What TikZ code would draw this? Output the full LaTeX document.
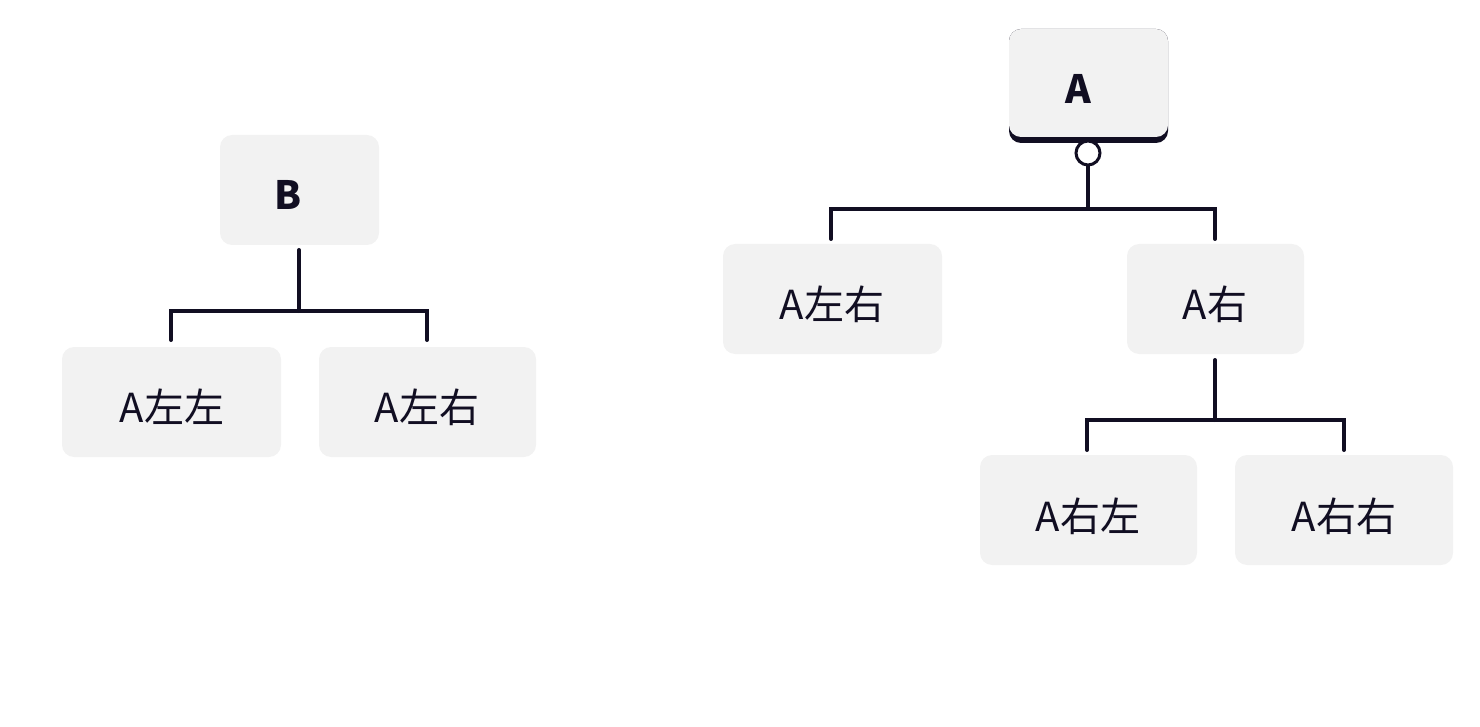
\documentclass[tikz,border=0pt]{standalone}
\usepackage{fontspec}
\setmainfont{Noto Sans CJK SC}
\definecolor{ink}{HTML}{110E22}
\definecolor{boxfill}{HTML}{F2F2F2}
\tikzset{
  box/.style={fill=boxfill, draw=none, rounded corners=12pt},
  lbl/.style={font=\fontsize{40}{42}\selectfont, text=ink, inner sep=0pt},
  blbl/.style={font=\fontsize{39}{42}\selectfont\bfseries, text=ink, inner sep=0pt},
  conn/.style={draw=ink, line width=4pt, line cap=round, line join=miter}
}
\begin{document}
\begin{tikzpicture}[x=1pt,y=-1pt]
\useasboundingbox (0,0) rectangle (1480,727);
% boxes
\fill[ink, rounded corners=12pt] (1009,29) rectangle (1168,143);
\path[box] (1009,29) rectangle (1168,137);
\path[box] (220,135) rectangle (379,245);
\path[box] (723,244) rectangle (942,354);
\path[box] (1127,244) rectangle (1304,354);
\path[box] (980,455) rectangle (1197,565);
\path[box] (1235,455) rectangle (1453,565);
\path[box] (62,347) rectangle (281,457);
\path[box] (319,347) rectangle (536,457);
% labels
\node[blbl] (A) at (1078,89) {A};
\node[blbl] (B) at (288,195) {B};
\node[lbl] (ALR) at (832,304) {A左右};
\node[lbl] (AR) at (1215,304) {A右};
\node[lbl] (ARL) at (1088,516) {A右左};
\node[lbl] (ARR) at (1344,516) {A右右};
\node[lbl] (BLL) at (172,407) {A左左};
\node[lbl] (BLR) at (427,407) {A左右};
% anchor coordinates
\coordinate (Btop) at (299,250);
\coordinate (Bj) at (299,311);
\coordinate (BLLt) at (171,340);
\coordinate (BLRt) at (427,340);
\coordinate (Ac) at (1088,153);
\coordinate (Aj) at (1088,209);
\coordinate (ALRt) at (831,239);
\coordinate (ARt) at (1215,239);
\coordinate (ARb) at (1215,360);
\coordinate (ARj) at (1215,420);
\coordinate (ARLt) at (1087,450);
\coordinate (ARRt) at (1344,450);
% connectors
\draw[conn] (Btop) -- (Bj);
\draw[conn] (BLLt) -- (BLLt |- Bj) -- (BLRt |- Bj) -- (BLRt);
\draw[conn] ([yshift=12pt]Ac) -- (Aj);
\draw[conn] (ALRt) -- (ALRt |- Aj) -- (ARt |- Aj) -- (ARt);
\draw[conn] (ARb) -- (ARj);
\draw[conn] (ARLt) -- (ARLt |- ARj) -- (ARRt |- ARj) -- (ARRt);
\draw[draw=ink, line width=3pt, fill=white] (Ac) circle (12pt);
\end{tikzpicture}
\end{document}
